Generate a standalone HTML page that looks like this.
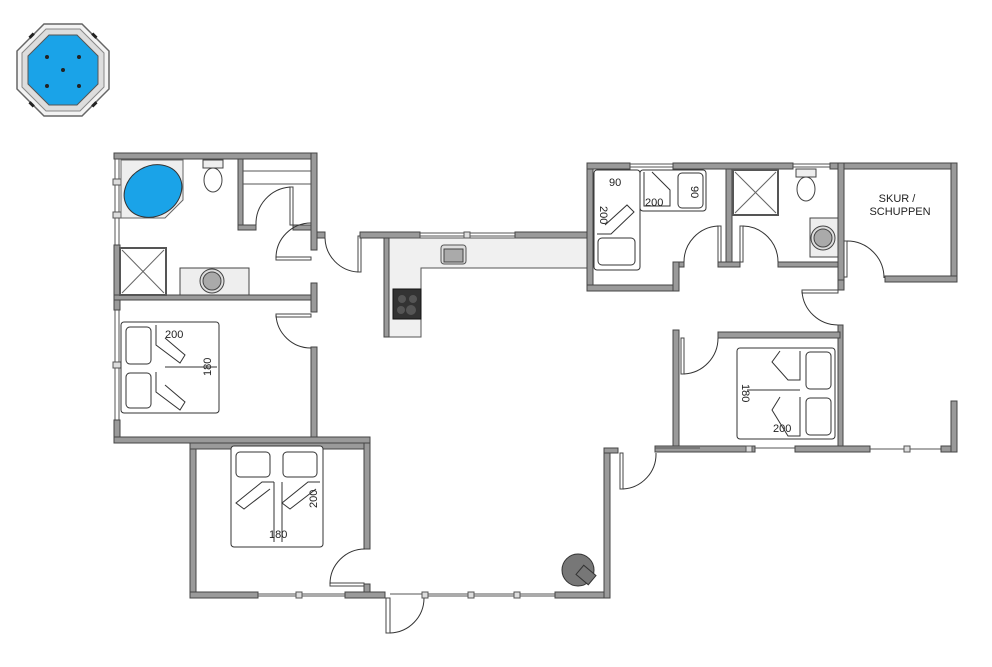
<!DOCTYPE html>
<html><head><meta charset="utf-8"><style>
html,body{margin:0;padding:0;background:#fff;}
svg{display:block;}
text{font-family:"Liberation Sans",sans-serif;fill:#222;}
</style></head><body>
<svg width="992" height="667" viewBox="0 0 992 667" xmlns="http://www.w3.org/2000/svg">
<defs>
<style>
.w{fill:#9a9a9a;stroke:#444;stroke-width:1}
.win{stroke:#555;stroke-width:1;fill:none}
.d{fill:none;stroke:#333;stroke-width:1}
.dl{fill:#fff;stroke:#444;stroke-width:1}
.bed{fill:#fff;stroke:#333;stroke-width:1}
.fx{fill:#eee;stroke:#444;stroke-width:1}
</style>
</defs>

<!-- hot tub -->
<g transform="translate(63,70)">
<polygon points="-19,-46 19,-46 46,-19 46,19 19,46 -19,46 -46,19 -46,-19" fill="#f3f3f3" stroke="#666" stroke-width="1.5"/>
<polygon points="-17,-41 17,-41 41,-17 41,17 17,41 -17,41 -41,17 -41,-17" fill="#ddd" stroke="#888"/>
<polygon points="-14,-35 14,-35 35,-14 35,14 14,35 -14,35 -35,14 -35,-14" fill="#1aa3e8" stroke="#555"/>
<circle cx="-16" cy="-13" r="2" fill="#222"/><circle cx="16" cy="-13" r="2" fill="#222"/>
<circle cx="0" cy="0" r="2" fill="#222"/><circle cx="-16" cy="16" r="2" fill="#222"/><circle cx="16" cy="16" r="2" fill="#222"/>
<rect x="-34" y="-36" width="6" height="3" fill="#222" transform="rotate(-45 -31 -34)"/>
<rect x="28" y="-36" width="6" height="3" fill="#222" transform="rotate(45 31 -34)"/>
<rect x="-34" y="33" width="6" height="3" fill="#222" transform="rotate(45 -31 34)"/>
<rect x="28" y="33" width="6" height="3" fill="#222" transform="rotate(-45 31 34)"/>
</g>

<!-- ===== LEFT BLOCK ===== -->
<!-- top wall -->
<rect class="w" x="114" y="153" width="203" height="6"/>
<!-- left wall: windows -->
<line class="win" x1="115" y1="159" x2="115" y2="245"/><line class="win" x1="119" y1="159" x2="119" y2="245"/>
<rect class="w" x="114" y="245" width="6" height="65"/>
<line class="win" x1="115" y1="310" x2="115" y2="420"/><line class="win" x1="119" y1="310" x2="119" y2="420"/>
<rect class="w" x="114" y="420" width="6" height="23"/>
<rect x="113" y="179" width="8" height="6" fill="#ddd" stroke="#555"/>
<rect x="113" y="212" width="8" height="6" fill="#ddd" stroke="#555"/>
<rect x="113" y="362" width="8" height="6" fill="#ddd" stroke="#555"/>
<!-- right wall -->
<rect class="w" x="311" y="153" width="6" height="97"/>
<rect class="w" x="311" y="283" width="6" height="29"/>
<rect class="w" x="311" y="347" width="6" height="96"/>
<!-- bath/bed divider -->
<rect class="w" x="114" y="295" width="197" height="5"/>
<!-- bottom of bedroom1 -->
<rect class="w" x="114" y="437" width="256" height="6"/>
<!-- closet -->
<rect class="w" x="238" y="159" width="5" height="71"/>
<rect class="w" x="238" y="225" width="18" height="5"/>
<rect class="w" x="293" y="225" width="18" height="5"/>
<line x1="243" y1="171" x2="311" y2="171" stroke="#555"/>
<line x1="243" y1="184" x2="311" y2="184" stroke="#555"/>
<rect class="dl" x="290" y="187" width="3" height="38"/>
<path class="d" d="M290 187 A37 37 0 0 0 256 225"/>
<!-- tub -->
<polygon points="121,160 183,160 183,200 165,218 121,218" fill="#eee" stroke="#666"/>
<ellipse cx="153" cy="191" rx="30" ry="25" transform="rotate(-30 153 191)" fill="#1aa3e8" stroke="#333"/>
<!-- toilet -->
<rect class="fx" x="203" y="160" width="20" height="8"/>
<ellipse cx="213" cy="180" rx="9" ry="12" fill="#fff" stroke="#444"/>
<!-- shower -->
<rect x="120" y="248" width="46" height="47" fill="#fff" stroke="#555" stroke-width="2"/>
<line x1="122" y1="250" x2="164" y2="293" stroke="#666"/><line x1="164" y1="250" x2="122" y2="293" stroke="#666"/>
<!-- sink -->
<rect class="fx" x="180" y="268" width="69" height="27"/>
<circle cx="212" cy="281" r="12" fill="#ddd" stroke="#444"/><circle cx="212" cy="281" r="9" fill="#aaa" stroke="#444"/>
<!-- bath doors -->
<rect class="dl" x="276" y="257" width="35" height="3"/>
<path class="d" d="M276 258 A35 35 0 0 1 311 223"/>
<rect class="dl" x="276" y="314" width="35" height="3"/>
<path class="d" d="M276 315 A35 35 0 0 0 311 348"/>
<!-- bed 1 -->
<rect class="bed" x="121" y="322" width="98" height="91" rx="3"/>
<rect class="bed" x="126" y="327" width="25" height="37" rx="4"/>
<rect class="bed" x="126" y="373" width="25" height="35" rx="4"/>
<polyline class="d" points="156,325 156,345 180,363 185,355 165,338"/>
<polyline class="d" points="156,372 156,392 180,410 185,402 165,385"/>
<line class="d" x1="165" y1="367" x2="217" y2="367"/>
<text x="165" y="338" font-size="11">200</text>
<text x="0" y="0" font-size="11" transform="translate(211,376) rotate(-90)">180</text>

<!-- ===== BEDROOM 2 ===== -->
<rect class="w" x="190" y="443" width="6" height="155"/>
<rect class="w" x="190" y="443" width="180" height="6"/>
<rect class="w" x="364" y="443" width="6" height="106"/>
<rect class="w" x="364" y="584" width="6" height="14"/>
<rect class="w" x="190" y="592" width="68" height="6"/>
<line class="win" x1="258" y1="594" x2="345" y2="594"/><line class="win" x1="258" y1="596" x2="345" y2="596"/>
<rect x="296" y="592" width="6" height="6" fill="#ddd" stroke="#555"/>
<rect class="w" x="345" y="592" width="40" height="6"/>
<rect class="dl" x="330" y="583" width="34" height="3"/>
<path class="d" d="M330 584 A35 35 0 0 1 365 549"/>
<rect class="bed" x="231" y="446" width="92" height="101" rx="3"/>
<rect class="bed" x="236" y="452" width="34" height="25" rx="4"/>
<rect class="bed" x="283" y="452" width="34" height="25" rx="4"/>
<polyline class="d" points="274,482 262,482 236,503 244,509 270,489"/>
<polyline class="d" points="320,482 308,482 282,503 290,509 316,489"/>
<line class="d" x1="274" y1="482" x2="274" y2="542"/><line class="d" x1="282" y1="482" x2="282" y2="542"/>
<text x="269" y="538" font-size="11">180</text>
<text font-size="11" transform="translate(317,508) rotate(-90)">200</text>

<!-- front door & bottom -->
<rect class="dl" x="386" y="598" width="4" height="35"/>
<path class="d" d="M390 633 A35 35 0 0 0 424 598"/>
<line class="win" x1="390" y1="594" x2="555" y2="594"/><line class="win" x1="425" y1="596" x2="555" y2="596"/>
<rect x="422" y="592" width="6" height="6" fill="#ddd" stroke="#555"/>
<rect x="468" y="592" width="6" height="6" fill="#ddd" stroke="#555"/>
<rect x="514" y="592" width="6" height="6" fill="#ddd" stroke="#555"/>
<rect class="w" x="555" y="592" width="55" height="6"/>
<rect class="w" x="604" y="448" width="6" height="150"/>
<rect class="w" x="604" y="448" width="14" height="5"/>
<rect class="dl" x="620" y="453" width="3" height="36"/>
<path class="d" d="M623 489 A35 35 0 0 0 656 453"/>
<!-- stove -->
<circle cx="578" cy="570" r="16" fill="#777" stroke="#333"/>
<rect x="578" y="569" width="16" height="12" fill="#777" stroke="#333" transform="rotate(40 586 575)"/>

<!-- ===== KITCHEN ===== -->
<rect class="w" x="317" y="232" width="8" height="6"/>
<rect class="dl" x="358" y="236" width="3" height="36"/>
<path class="d" d="M325 238 A35 35 0 0 0 358 272"/>
<rect class="w" x="360" y="232" width="60" height="6"/>
<line class="win" x1="420" y1="233" x2="515" y2="233"/><line class="win" x1="420" y1="236" x2="515" y2="236"/>
<rect x="464" y="232" width="6" height="6" fill="#ddd" stroke="#555"/>
<rect class="w" x="515" y="232" width="75" height="6"/>
<polygon points="384,238 588,238 588,268 421,268 421,337 384,337" fill="#f0f0f0" stroke="#555"/>
<rect class="w" x="384" y="238" width="5" height="99"/>
<rect x="393" y="289" width="28" height="30" fill="#333" stroke="#111"/>
<circle cx="402" cy="299" r="4" fill="#555"/><circle cx="413" cy="299" r="4" fill="#555"/>
<circle cx="401" cy="310" r="4" fill="#555"/><circle cx="411" cy="310" r="5" fill="#555"/>
<rect x="441" y="245" width="25" height="19" rx="3" fill="#ddd" stroke="#555"/>
<rect x="444" y="249" width="19" height="13" fill="#aaa" stroke="#444"/>

<!-- ===== RIGHT TOP BLOCK ===== -->
<rect class="w" x="587" y="163" width="6" height="128"/>
<rect class="w" x="587" y="163" width="43" height="6"/>
<line class="win" x1="630" y1="164" x2="673" y2="164"/><line class="win" x1="630" y1="167" x2="673" y2="167"/>
<rect class="w" x="673" y="163" width="120" height="6"/>
<line class="win" x1="793" y1="164" x2="830" y2="164"/><line class="win" x1="793" y1="167" x2="830" y2="167"/>
<rect class="w" x="830" y="163" width="127" height="6"/>
<rect class="w" x="587" y="285" width="92" height="6"/>
<rect class="w" x="673" y="262" width="6" height="29"/>
<rect class="w" x="679" y="262" width="5" height="5"/>
<rect class="w" x="726" y="169" width="6" height="98"/>
<rect class="w" x="718" y="262" width="22" height="5"/>
<rect class="w" x="778" y="262" width="62" height="5"/>
<rect class="dl" x="718" y="226" width="3" height="36"/>
<path class="d" d="M718 226 A36 36 0 0 0 684 262"/>
<rect class="dl" x="740" y="226" width="3" height="36"/>
<path class="d" d="M743 226 A36 36 0 0 1 778 262"/>
<!-- bunk beds -->
<rect class="bed" x="594" y="170" width="46" height="100" rx="3"/>
<rect class="bed" x="598" y="238" width="37" height="27" rx="4"/>
<polyline class="d" points="597,234 611,234 634,212 627,205 605,225"/>
<rect class="bed" x="640" y="170" width="66" height="41" rx="3"/>
<rect class="bed" x="678" y="173" width="25" height="35" rx="4"/>
<polyline class="d" points="644,172 644,206 670,206 670,190 652,172"/>
<text x="609" y="186" font-size="11">90</text>
<text x="645" y="206" font-size="11">200</text>
<text font-size="11" transform="translate(691,186) rotate(90)">90</text>
<text font-size="11" transform="translate(600,206) rotate(90)">200</text>
<!-- bath 2 -->
<rect x="733" y="170" width="45" height="45" fill="#fff" stroke="#555" stroke-width="2"/>
<line x1="735" y1="172" x2="776" y2="213" stroke="#666"/><line x1="776" y1="172" x2="735" y2="213" stroke="#666"/>
<rect class="fx" x="796" y="169" width="20" height="8"/>
<ellipse cx="806" cy="189" rx="9" ry="12" fill="#fff" stroke="#444"/>
<rect class="fx" x="810" y="218" width="28" height="39"/>
<circle cx="823" cy="238" r="12" fill="#ddd" stroke="#444"/><circle cx="823" cy="238" r="9" fill="#aaa" stroke="#444"/>
<!-- skur -->
<rect class="w" x="838" y="163" width="6" height="117"/>
<rect class="w" x="951" y="163" width="6" height="119"/>
<rect class="w" x="885" y="276" width="72" height="6"/>
<rect class="dl" x="844" y="241" width="3" height="36"/>
<path class="d" d="M847 241 A37 37 0 0 1 884 278"/>
<text x="897" y="202" font-size="11" text-anchor="middle">SKUR /</text>
<text x="900" y="215" font-size="11" text-anchor="middle">SCHUPPEN</text>
<!-- corridor east wall -->
<rect class="w" x="838" y="280" width="6" height="10"/>
<rect class="dl" x="802" y="290" width="36" height="3"/>
<path class="d" d="M802 291 A36 36 0 0 0 838 325"/>
<rect class="w" x="838" y="325" width="5" height="127"/>

<!-- ===== BEDROOM 4 ===== -->
<rect class="w" x="673" y="330" width="6" height="122"/>
<rect class="w" x="718" y="332" width="122" height="6"/>
<rect class="dl" x="681" y="338" width="3" height="36"/>
<path class="d" d="M684 374 A36 36 0 0 0 718 338"/>
<rect class="w" x="655" y="446" width="100" height="6"/>
<line class="win" x1="655" y1="448" x2="700" y2="448"/>
<line class="win" x1="755" y1="448" x2="795" y2="448"/>
<rect x="746" y="446" width="6" height="6" fill="#ddd" stroke="#555"/>
<rect class="w" x="795" y="446" width="75" height="6"/>
<line class="win" x1="870" y1="449" x2="948" y2="449"/>
<rect x="904" y="446" width="6" height="6" fill="#ddd" stroke="#555"/>
<rect class="w" x="941" y="446" width="16" height="6"/>
<rect class="w" x="951" y="401" width="6" height="51"/>
<rect class="bed" x="737" y="348" width="98" height="91" rx="3"/>
<rect class="bed" x="806" y="352" width="25" height="37" rx="4"/>
<rect class="bed" x="806" y="398" width="25" height="37" rx="4"/>
<polyline class="d" points="800,351 800,380 788,380 772,362 780,351"/>
<polyline class="d" points="800,397 800,436 788,436 772,410 780,397"/>
<line class="d" x1="747" y1="390" x2="800" y2="390"/>
<text x="773" y="432" font-size="11">200</text>
<text font-size="11" transform="translate(742,384) rotate(90)">180</text>
</svg>
</body></html>
